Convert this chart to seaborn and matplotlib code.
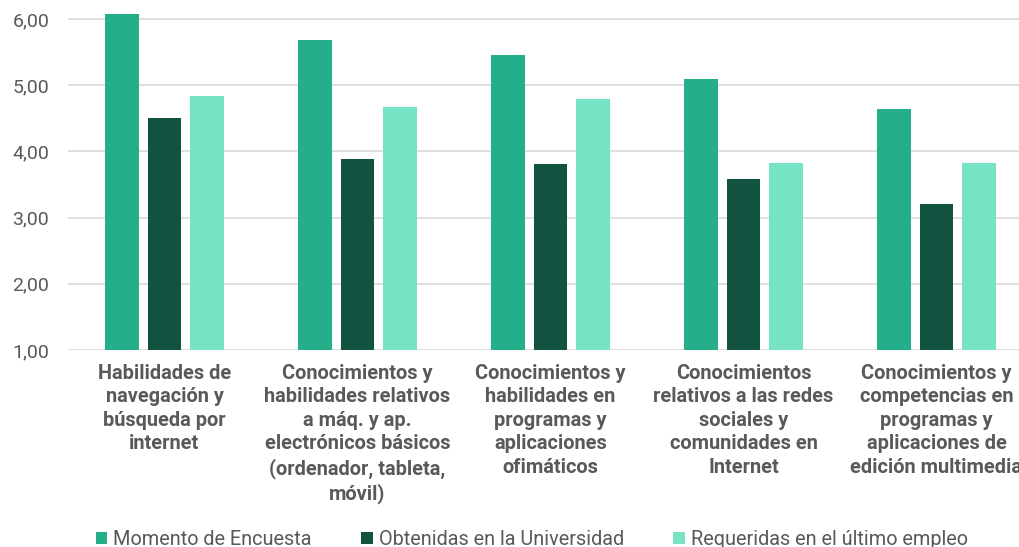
import matplotlib
matplotlib.use("Agg")
import matplotlib.pyplot as plt
import seaborn as sns
import pandas as pd

# Competency categories (x axis)
categorias = [
    "Habilidades de\nnavegación y\nbúsqueda por\ninternet",
    "Conocimientos y\nhabilidades relativos\na máq. y ap.\nelectrónicos básicos\n(ordenador, tableta,\nmóvil)",
    "Conocimientos y\nhabilidades en\nprogramas y\naplicaciones\nofimáticos",
    "Conocimientos\nrelativos a las redes\nsociales y\ncomunidades en\nInternet",
    "Conocimientos y\ncompetencias en\nprogramas y\naplicaciones de\nedición multimedia",
]

# Series names
series = ["Momento de Encuesta", "Obtenidas en la Universidad", "Requeridas en el último empleo"]

# Mean scores per series
momento_encuesta = [6.08, 5.68, 5.45, 5.10, 4.64]
obtenidas_universidad = [4.51, 3.88, 3.81, 3.58, 3.20]
requeridas_empleo = [4.84, 4.67, 4.79, 3.83, 3.83]

# Y-axis ticks
y_ticks = [1, 2, 3, 4, 5, 6]
y_labels = ["1,00", "2,00", "3,00", "4,00", "5,00", "6,00"]

colores = ["#24AE89", "#125241", "#77E3C5"]

df = pd.DataFrame({
    "categoria": categorias * 3,
    "serie": [series[0]] * 5 + [series[1]] * 5 + [series[2]] * 5,
    "valor": momento_encuesta + obtenidas_universidad + requeridas_empleo,
})

sns.set_theme(style="white")
plt.rcParams["font.family"] = ["Roboto", "DejaVu Sans"]

W, H = 1020, 547
fig = plt.figure(figsize=(W / 100, H / 100), dpi=100)
ax = fig.add_axes([68 / W, 1 - 350 / H, (1033 - 68) / W, 350 / H])

sns.barplot(
    data=df, x="categoria", y="valor", hue="serie",
    order=categorias, hue_order=series, palette=colores, saturation=1,
    width=0.668, gap=0.21, linewidth=0, ax=ax, legend=True,
)

ax.set_xlim(-0.5, 4.5)
ax.set_ylim(1, 6.287)
ax.set_yticks(y_ticks)
ax.set_yticklabels(y_labels)
ax.yaxis.grid(True, color="#D9D9D9", linewidth=1.2)
ax.set_axisbelow(True)
for s in ax.spines.values():
    s.set_visible(False)
ax.set_xlabel("")
ax.set_ylabel("")

ax.tick_params(axis="y", length=0, pad=13.5, labelsize=14, labelcolor="#595959")
ax.tick_params(axis="x", length=0, pad=10, labelsize=14.4, labelcolor="#595959")
for lbl in ax.get_xticklabels():
    lbl.set_fontweight("bold")
    lbl.set_linespacing(1.3)
    lbl.set_horizontalalignment("center")
    lbl.set_verticalalignment("top")

handles, labels = ax.get_legend_handles_labels()
ax.get_legend().remove()
fig.legend(
    handles, labels, ncol=3, loc="upper left",
    bbox_to_anchor=(96 / W, 1 - 530 / H),
    frameon=False, fontsize=14.3, labelcolor="#595959",
    handlelength=0.57, handleheight=0.55, handletextpad=0.3,
    columnspacing=2.5, borderpad=0, borderaxespad=0,
)

fig.savefig("out.png", dpi=100)
